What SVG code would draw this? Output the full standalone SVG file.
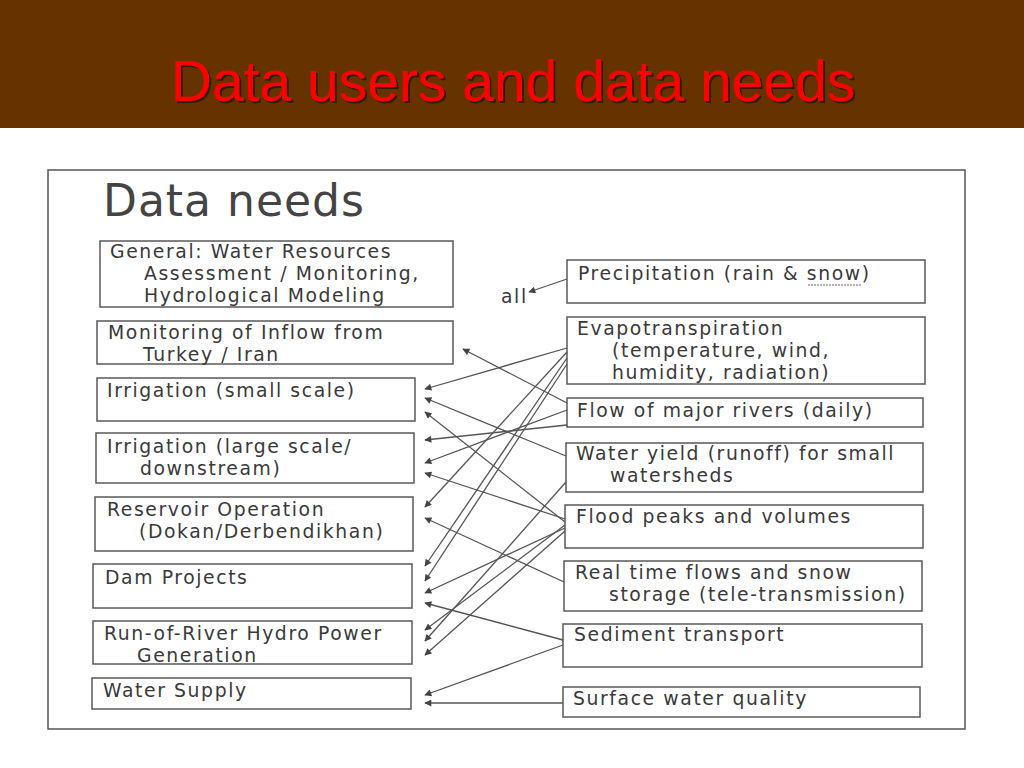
<svg xmlns="http://www.w3.org/2000/svg" width="1024" height="768" viewBox="0 0 1024 768">
<defs>
<style>
.box{fill:none;stroke:#5a5a5a;stroke-width:1.5}
.t{font-family:"DejaVu Sans",Verdana,sans-serif;font-size:18.8px;letter-spacing:1.6px;fill:#3a3a3a}
.c{fill:none;stroke:#555;stroke-width:1.3;marker-end:url(#ah)}
</style>
<marker id="ah" viewBox="0 0 10 10" refX="9" refY="5" markerWidth="9" markerHeight="7" markerUnits="userSpaceOnUse" orient="auto">
<path d="M0,0 L10,5 L0,10 z" fill="#444"/>
</marker>
<filter id="sh" x="-5%" y="-20%" width="110%" height="140%">
<feDropShadow dx="2" dy="2" stdDeviation="0.5" flood-color="#2a1200" flood-opacity="0.9"/>
</filter>
</defs>
<rect x="0" y="0" width="1024" height="768" fill="#ffffff"/>
<rect x="0" y="0" width="1024" height="128" fill="#663300"/>
<text x="513" y="101" text-anchor="middle" font-family="'Liberation Sans',Arial,sans-serif" font-size="57" fill="#ff0000" filter="url(#sh)">Data users and data needs</text>
<rect x="48" y="170" width="917" height="559" fill="none" stroke="#555" stroke-width="1.5"/>
<text x="103" y="216" font-family="'DejaVu Sans',Verdana,sans-serif" font-size="44" letter-spacing="1" fill="#444">Data needs</text>

<g id="general"><rect class="box" x="100" y="241" width="353" height="66"/><text class="t" x="110" y="258">General: Water Resources</text><text class="t" x="144" y="280">Assessment / Monitoring,</text><text class="t" x="144" y="302">Hydrological Modeling</text></g>
<g id="monitoring"><rect class="box" x="97" y="321" width="356" height="43"/><text class="t" x="108" y="339">Monitoring of Inflow from</text><text class="t" x="143" y="361">Turkey / Iran</text></g>
<g id="irr-small"><rect class="box" x="97" y="378" width="318" height="43"/><text class="t" x="107" y="397">Irrigation (small scale)</text></g>
<g id="irr-large"><rect class="box" x="96" y="433" width="318" height="50"/><text class="t" x="107" y="453">Irrigation (large scale/</text><text class="t" x="140" y="475">downstream)</text></g>
<g id="reservoir"><rect class="box" x="95" y="497" width="318" height="54"/><text class="t" x="107" y="516">Reservoir Operation</text><text class="t" x="139" y="538">(Dokan/Derbendikhan)</text></g>
<g id="dam"><rect class="box" x="93" y="564" width="319" height="44"/><text class="t" x="105" y="584">Dam Projects</text></g>
<g id="ror"><rect class="box" x="93" y="621" width="319" height="43"/><text class="t" x="104" y="640">Run-of-River Hydro Power</text><text class="t" x="137" y="662">Generation</text></g>
<g id="water-supply"><rect class="box" x="92" y="678" width="319" height="31"/><text class="t" x="103" y="697">Water Supply</text></g>

<g id="precip"><rect class="box" x="567" y="260" width="358" height="43"/><text class="t" x="578" y="280">Precipitation (rain &amp; snow)</text><line x1="808" y1="285" x2="862" y2="285" stroke="#666" stroke-width="1" stroke-dasharray="2,1"/></g>
<g id="evapo"><rect class="box" x="567" y="317" width="358" height="67"/><text class="t" x="577" y="335">Evapotranspiration</text><text class="t" x="612" y="357">(temperature, wind,</text><text class="t" x="612" y="379">humidity, radiation)</text></g>
<g id="flow"><rect class="box" x="567" y="398" width="356" height="29"/><text class="t" x="577" y="417">Flow of major rivers (daily)</text></g>
<g id="yield"><rect class="box" x="566" y="443" width="357" height="49"/><text class="t" x="576" y="460">Water yield (runoff) for small</text><text class="t" x="610" y="482">watersheds</text></g>
<g id="flood"><rect class="box" x="565" y="505" width="358" height="43"/><text class="t" x="576" y="523">Flood peaks and volumes</text></g>
<g id="realtime"><rect class="box" x="564" y="561" width="358" height="50"/><text class="t" x="575" y="579">Real time flows and snow</text><text class="t" x="609" y="601">storage (tele-transmission)</text></g>
<g id="sediment"><rect class="box" x="563" y="624" width="359" height="43"/><text class="t" x="574" y="641">Sediment transport</text></g>
<g id="surface"><rect class="box" x="563" y="687" width="357" height="30"/><text class="t" x="573" y="705">Surface water quality</text></g>
<g id="all-label"><text class="t" x="501" y="303">all</text></g>

<g id="connectors">
<path class="c" d="M567,279 L529,292"/>
<path class="c" d="M567,403 L463,349"/>
<path class="c" d="M567,348 L425,389"/>
<path class="c" d="M566,456 L425,398"/>
<path class="c" d="M565,522 L425,412"/>
<path class="c" d="M567,425 L425,440"/>
<path class="c" d="M567,410 L425,463"/>
<path class="c" d="M565,519 L425,473"/>
<path class="c" d="M567,352 L425,507"/>
<path class="c" d="M564,582 L425,518"/>
<path class="c" d="M567,358 L425,566"/>
<path class="c" d="M567,364 L425,581"/>
<path class="c" d="M565,528 L425,593"/>
<path class="c" d="M563,640 L425,603"/>
<path class="c" d="M565,525 L425,630"/>
<path class="c" d="M566,482 L425,641"/>
<path class="c" d="M565,531 L425,655"/>
<path class="c" d="M563,645 L425,695"/>
<path class="c" d="M563,703 L425,703"/>
</g>
</svg>
